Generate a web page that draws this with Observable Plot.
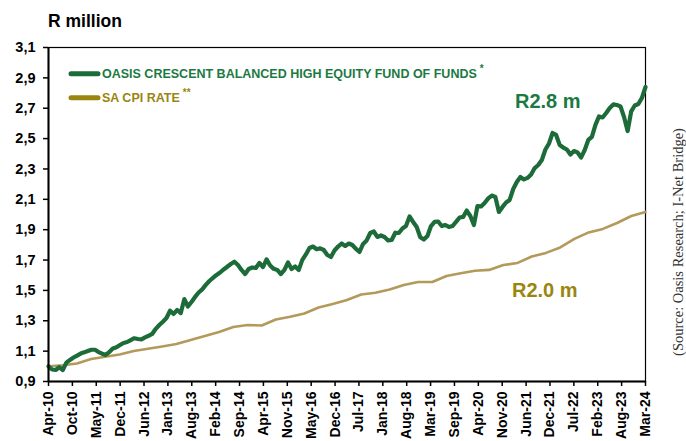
<!DOCTYPE html>
<html>
<head>
<meta charset="utf-8">
<script src="https://cdn.jsdelivr.net/npm/d3@7"></script>
<script src="https://cdn.jsdelivr.net/npm/@observablehq/plot@0.6"></script>
<style>
  html, body { margin: 0; padding: 0; background: #fff; }
  #chart { width: 686px; height: 441px; overflow: hidden; }
</style>
</head>
<body>
<div id="chart"></div>
<script>
// Oasis Crescent Balanced High Equity Fund of Funds, value of R1m invested (monthly, Apr-10 .. Mar-24)
const fund = [
  1.000, 0.979, 0.976, 0.994, 0.976, 1.024, 1.042, 1.058, 1.071, 1.084,
  1.092, 1.101, 1.109, 1.109, 1.094, 1.083, 1.075, 1.094, 1.117, 1.125,
  1.140, 1.154, 1.160, 1.173, 1.185, 1.180, 1.178, 1.191, 1.201, 1.213,
  1.247, 1.272, 1.294, 1.318, 1.366, 1.345, 1.371, 1.351, 1.443, 1.394,
  1.424, 1.457, 1.486, 1.507, 1.536, 1.562, 1.582, 1.602, 1.618, 1.638,
  1.656, 1.674, 1.689, 1.667, 1.635, 1.608, 1.641, 1.651, 1.648, 1.681,
  1.654, 1.704, 1.664, 1.642, 1.635, 1.608, 1.635, 1.684, 1.641, 1.658,
  1.635, 1.701, 1.737, 1.779, 1.789, 1.771, 1.777, 1.766, 1.733, 1.720,
  1.763, 1.789, 1.809, 1.793, 1.809, 1.799, 1.773, 1.753, 1.806, 1.829,
  1.878, 1.888, 1.852, 1.862, 1.852, 1.829, 1.832, 1.880, 1.878, 1.908,
  1.924, 1.987, 1.951, 1.918, 1.850, 1.835, 1.858, 1.924, 1.951, 1.954,
  1.924, 1.931, 1.918, 1.924, 1.951, 1.980, 1.984, 2.026, 1.990, 1.931,
  2.056, 2.053, 2.076, 2.106, 2.125, 2.115, 2.017, 2.050, 2.079, 2.096,
  2.168, 2.214, 2.247, 2.231, 2.241, 2.264, 2.306, 2.326, 2.359, 2.428,
  2.468, 2.537, 2.524, 2.458, 2.441, 2.428, 2.395, 2.418, 2.409, 2.376,
  2.425, 2.491, 2.511, 2.590, 2.646, 2.639, 2.669, 2.702, 2.725, 2.721,
  2.712, 2.642, 2.550, 2.679, 2.718, 2.728, 2.768, 2.840
];
// SA CPI, value of R1m (sampled roughly every 4 months over the same period)
const cpi = [
  1.000, 1.007, 1.019, 1.048, 1.063, 1.078, 1.101, 1.116, 1.131, 1.147,
  1.173, 1.200, 1.226, 1.259, 1.272, 1.269, 1.308, 1.326, 1.348, 1.387,
  1.411, 1.437, 1.473, 1.485, 1.506, 1.536, 1.555, 1.555, 1.595, 1.613,
  1.629, 1.635, 1.667, 1.681, 1.723, 1.747, 1.783, 1.839, 1.882, 1.905,
  1.944, 1.990, 2.017
];
const tickLabels = ["Apr-10","Oct-10","May-11","Dec-11","Jun-12","Jan-13","Aug-13","Feb-14","Sep-14","Apr-15","Nov-15","May-16","Dec-16","Jul-17","Jan-18","Aug-18","Mar-19","Sep-19","Apr-20","Nov-20","Jun-21","Dec-21","Jul-22","Feb-23","Aug-23","Mar-24"];
const yTicks = [0.9, 1.1, 1.3, 1.5, 1.7, 1.9, 2.1, 2.3, 2.5, 2.7, 2.9, 3.1];
const seriesNames = ["OASIS CRESCENT BALANCED HIGH EQUITY FUND OF FUNDS", "SA CPI RATE"];
const endLabels = ["R2.8 m", "R2.0 m"];
const titleText = "R million";
const sourceText = "(Source: Oasis Research; I-Net Bridge)";

const span = fund.length - 1;
const fundData = fund.map((v, i) => ({x: i, y: v}));
const cpiData = cpi.map((v, i) => ({x: i * span / (cpi.length - 1), y: v}));
const tickPos = tickLabels.map((_, k) => k * span / (tickLabels.length - 1));

const GREEN_LINE = "#1d6b38", GREEN_TEXT = "#1a7a42";
const CPI_LINE = "#b39a5a", CPI_TEXT = "#9a8510";
const FONT = "'Liberation Sans', Arial, Helvetica, sans-serif";

const plot = Plot.plot({
  width: 686,
  height: 441,
  marginLeft: 48,
  marginRight: 41,
  marginTop: 47,
  marginBottom: 60,
  style: {fontFamily: FONT, background: "#fff", color: "#000", overflow: "visible"},
  x: {domain: [0, span]},
  y: {domain: [0.9, 3.1]},
  marks: [
    Plot.frame({stroke: "#000", strokeWidth: 1.2}),
    Plot.line(cpiData, {x: "x", y: "y", stroke: CPI_LINE, strokeWidth: 2.6, strokeLinejoin: "round"}),
    Plot.line(fundData, {x: "x", y: "y", stroke: GREEN_LINE, strokeWidth: 4.2, strokeLinejoin: "round", strokeLinecap: "round"}),
    Plot.ruleX([0], {stroke: "#000", strokeWidth: 2}),
    Plot.ruleY([0.9], {stroke: "#000", strokeWidth: 2}),
    Plot.axisY({
      ticks: yTicks,
      tickFormat: d => d.toFixed(1).replace(".", ","),
      tickSize: 5, tickPadding: 8, strokeWidth: 1.5,
      fontSize: 14.5, fontWeight: "bold", fill: "#000", label: null
    }),
    Plot.axisX({
      ticks: tickPos,
      tickFormat: (d, k) => tickLabels[k],
      tickRotate: -90,
      tickSize: 5, tickPadding: 5, strokeWidth: 1.5,
      fontSize: 14, fontWeight: "bold", fill: "#000", label: null
    })
  ]
});

document.getElementById("chart").appendChild(plot);

const svg = d3.select(plot);
const g = svg.append("g").attr("font-family", FONT).attr("text-anchor", "start");

// Title
g.append("text").attr("x", 48).attr("y", 27)
  .attr("font-size", 17.5).attr("font-weight", "bold").attr("fill", "#000")
  .text(titleText);

// Legend
g.append("line").attr("x1", 71).attr("x2", 98).attr("y1", 73.8).attr("y2", 73.8)
  .attr("stroke", GREEN_LINE).attr("stroke-width", 5).attr("stroke-linecap", "round");
const t1 = g.append("text").attr("x", 102).attr("y", 78.3)
  .attr("font-size", 12.5).attr("font-weight", "bold").attr("fill", GREEN_TEXT);
t1.append("tspan").text(seriesNames[0]);
t1.append("tspan").attr("dx", 3).attr("dy", -6).attr("font-size", 10).text("*");

g.append("line").attr("x1", 71).attr("x2", 98).attr("y1", 97.8).attr("y2", 97.8)
  .attr("stroke", CPI_TEXT).attr("stroke-width", 5).attr("stroke-linecap", "round");
const t2 = g.append("text").attr("x", 102).attr("y", 102.3)
  .attr("font-size", 12.5).attr("font-weight", "bold").attr("fill", CPI_TEXT);
t2.append("tspan").text(seriesNames[1]);
t2.append("tspan").attr("dx", 3).attr("dy", -6).attr("font-size", 10).text("**");

// End-value annotations
g.append("text").attr("x", 515).attr("y", 107.5)
  .attr("font-size", 20).attr("font-weight", "bold").attr("fill", GREEN_TEXT)
  .text(endLabels[0]);
g.append("text").attr("x", 512).attr("y", 296.5)
  .attr("font-size", 20).attr("font-weight", "bold").attr("fill", CPI_TEXT)
  .text(endLabels[1]);

// Source (vertical)
g.append("text")
  .attr("transform", "translate(683,242) rotate(-90)")
  .attr("text-anchor", "middle")
  .attr("font-family", "'Liberation Serif', 'Times New Roman', serif")
  .attr("font-size", 14.5).attr("fill", "#333")
  .text(sourceText);
</script>
</body>
</html>
